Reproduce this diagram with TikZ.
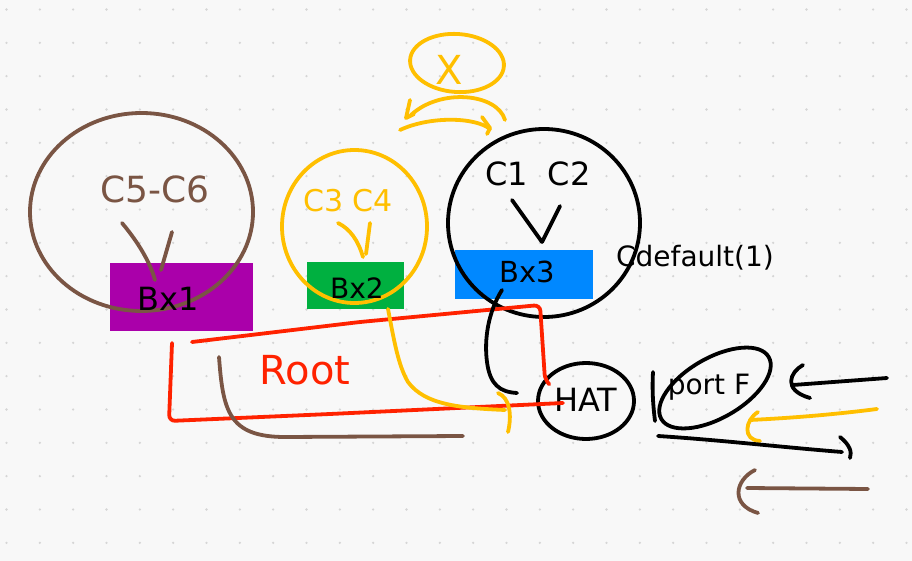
\documentclass[tikz,border=0pt]{standalone}
\usepackage{fontspec}
\setmainfont{DejaVu Sans}
\usetikzlibrary{shapes.geometric}
\definecolor{bg}{HTML}{F8F8F8}
\definecolor{dotc}{HTML}{D6D6D6}
\definecolor{pbrown}{HTML}{7A5544}
\definecolor{pyellow}{HTML}{FFBF00}
\definecolor{pred}{HTML}{FF2200}
\definecolor{ppurple}{HTML}{AA00AA}
\definecolor{pgreen}{HTML}{00B040}
\definecolor{pblue}{HTML}{0088FF}
\newcommand{\fsz}[1]{\fontsize{#1}{#1}\selectfont}
\begin{document}
\begin{tikzpicture}[x=1pt,y=-1pt,
  pen/.style={line width=3.8pt, line cap=round, line join=round},
  boxnode/.style={inner sep=0pt, outer sep=0pt},
  ring/.style={ellipse, draw, line width=3.8pt, inner sep=0pt, fill=none},
  lbl/.style={inner sep=0pt}
]
% background and dot grid
\fill[bg] (0,0) rectangle (912,561);
\useasboundingbox (0,0) rectangle (912,561);
\foreach \i in {0,...,27}{
  \foreach \j in {0,...,16}{
    \fill[dotc] ({6.5+33.333*\i},{9.5+33.333*\j}) circle (1.3pt);
  }
}

% coloured boxes
\node[boxnode, fill=ppurple, minimum width=143pt, minimum height=68pt] (bx1) at (181.5,297) {};
\node[boxnode, fill=pgreen, minimum width=97pt, minimum height=47pt] (bx2) at (355.5,285.5) {};
\node[boxnode, fill=pblue, minimum width=138pt, minimum height=49pt] (bx3) at (524,274.5) {};

% rings
\node[ring, draw=pbrown, minimum width=223pt, minimum height=198pt] (r56) at (141.5,212) {};
\node[ring, draw=pyellow, minimum width=145pt, minimum height=153pt] (r34) at (354.5,226.5) {};
\node[ring, draw=black, minimum width=192pt, minimum height=188pt] (r12) at (544,223) {};
\node[ring, draw=pyellow, minimum width=94pt, minimum height=58pt, rotate=-4] (rx) at (457,63) {};
\node[ring, draw=black, minimum width=96pt, minimum height=76pt] (rhat) at (586,401) {};
\node[ring, draw=black, minimum width=124pt, minimum height=60pt, rotate=30] (rport) at (715,388) {};

% texts
\node[lbl, font=\fsz{36}, text=pbrown] (t56) at (155,189) {C5-C6};
\node[lbl, font=\fsz{30}, text=pyellow] (t34) at (348,201) {C3 C4};
\node[lbl, font=\fsz{32}, text=black] (t12) at (538,174) {C1\hspace{20pt}C2};
\node[lbl, font=\fsz{40}, text=pyellow] (tx) at (449,70) {X};
\node[lbl, font=\fsz{32}] (tb1) at (168,299) {Bx1};
\node[lbl, font=\fsz{28}] (tb2) at (357,288) {Bx2};
\node[lbl, font=\fsz{29}] (tb3) at (527,272) {Bx3};
\node[lbl, font=\fsz{28}] (tdef) at (695,258) {Cdefault(1)};
\node[lbl, font=\fsz{40}, text=pred] (troot) at (305,370) {Root};
\node[lbl, font=\fsz{32}] (that) at (586,400) {HAT};
\node[lbl, font=\fsz{28}] (tport) at (709,387) {port F};

% V arrows inside rings
\draw[pen, pbrown] (122,223) .. controls (138,242) and (150,262) .. (155,280);
\draw[pen, pbrown] (172,232) -- (161,270);
\draw[pen, pyellow] (338,223) .. controls (350,229) and (358,240) .. (363,257);
\draw[pen, pyellow] (370,223) -- (366,254);
\draw[pen, black] (512,200) -- (542,242) -- (560,206);

% swap arrows under X
\draw[pen, pyellow] (505,120) .. controls (497,93) and (440,88) .. (411,115);
\draw[pen, pyellow] (410,100) -- (406,118) -- (414,114);
\draw[pen, pyellow] (400,130) .. controls (430,116) and (475,117) .. (490,129);
\draw[pen, pyellow] (482,117) -- (490,128) -- (487,134);

% red root paths
\draw[pen, pred, rounded corners=6pt] (172,343) -- (169,421) -- (330,414) -- (563,403);
\draw[pen, pred, rounded corners=6pt] (192,342) -- (360,322) -- (540,305) -- (545,380) -- (549,384);

% brown path
\draw[pen, pbrown] (219,357) .. controls (223,410) and (228,437) .. (285,437) -- (463,436);

% yellow path from Bx2
\draw[pen, pyellow] (388,309) .. controls (394,340) and (398,365) .. (408,382) .. controls (425,405) and (460,408) .. (505,410);
\draw[pen, pyellow] (498,393) .. controls (510,398) and (512,415) .. (508,432);

% black path from Bx3
\draw[pen, black] (502,290) .. controls (488,312) and (484,340) .. (487,362) .. controls (490,385) and (500,392) .. (517,393);

% stroke beside HAT
\draw[pen, black] (653,372) .. controls (652,390) and (653,405) .. (655,421);

% arrows on the right
\draw[pen, black] (887,378) -- (793,385);
\draw[pen, black] (803,365) .. controls (790,372) and (782,390) .. (810,398);
\draw[pen, pyellow] (877,409) .. controls (830,415) and (790,418) .. (750,420);
\draw[pen, pyellow] (758,412) .. controls (745,420) and (742,440) .. (760,441);
\draw[pen, black] (658,436) .. controls (720,440) and (780,447) .. (842,452);
\draw[pen, black] (840,437) .. controls (850,445) and (852,452) .. (850,458);
\draw[pen, pbrown] (868,489) -- (747,488);
\draw[pen, pbrown] (755,470) .. controls (735,480) and (730,505) .. (758,513);
\end{tikzpicture}
\end{document}
